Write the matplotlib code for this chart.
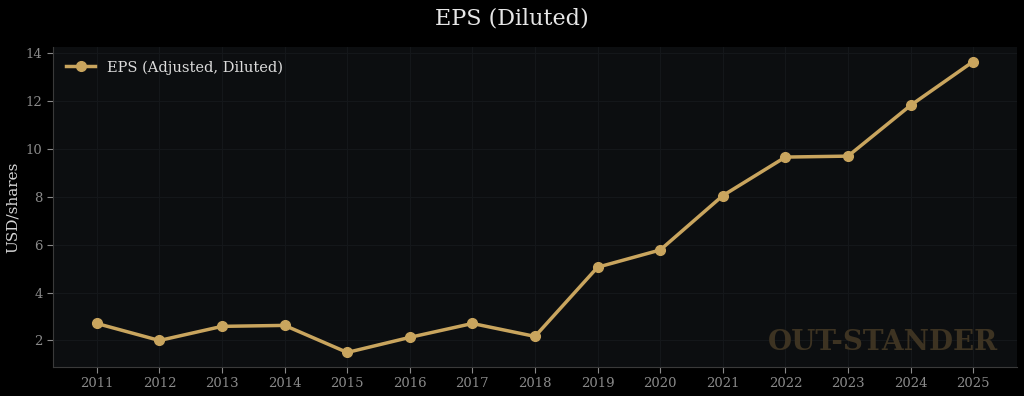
import matplotlib
matplotlib.use("Agg")
import matplotlib.pyplot as plt

years = [2011, 2012, 2013, 2014, 2015, 2016, 2017, 2018,
         2019, 2020, 2021, 2022, 2023, 2024, 2025]
eps = [2.71, 2.00, 2.59, 2.63, 1.50, 2.13, 2.71, 2.17,
       5.06, 5.78, 8.05, 9.66, 9.70, 11.82, 13.65]

gold = "#c9a55e"
plt.rcParams["font.family"] = "DejaVu Serif"

fig = plt.figure(figsize=(10.24, 3.96), dpi=100, facecolor="#000000")
ax = fig.add_axes([53 / 1024, 1 - 367 / 396, (1017 - 53) / 1024, (367 - 47) / 396])
ax.set_facecolor("#0c0e10")

ax.plot(years, eps, color=gold, lw=2.5, marker="o", ms=7, label="EPS (Adjusted, Diluted)")

ax.set_xticks(years)
ax.set_yticks([2, 4, 6, 8, 10, 12, 14])
ax.tick_params(colors="#8a8a8a", labelsize=9.5, length=4)
for s in ["top", "right"]:
    ax.spines[s].set_visible(False)
for s in ["left", "bottom"]:
    ax.spines[s].set_color("#3a3a3a")
ax.grid(True, color="#15181b", lw=0.7)
ax.set_axisbelow(True)

ax.set_ylabel("USD/shares", color="#d8d8d8", fontsize=11)
fig.suptitle("EPS (Diluted)", color="#e6e6e6", fontsize=16, y=0.98)

leg = ax.legend(loc="upper left", frameon=False, fontsize=10.5)
for t in leg.get_texts():
    t.set_color("#dcdcdc")

ax.text(0.98, 0.035, "OUT-STANDER", transform=ax.transAxes, ha="right", va="bottom",
        fontsize=20, fontweight="bold", color="#3d3322")

fig.savefig("out.png", dpi=100, facecolor=fig.get_facecolor())
